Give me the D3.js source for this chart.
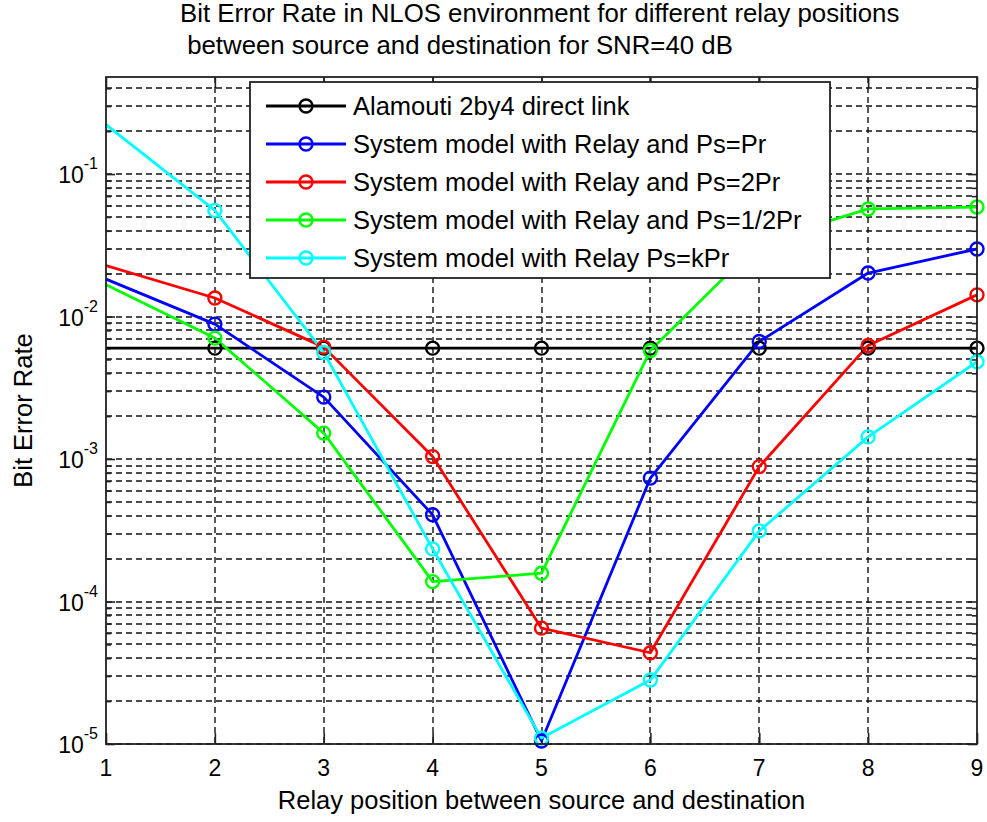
<!DOCTYPE html>
<html>
<head>
<meta charset="utf-8">
<script src="https://cdn.jsdelivr.net/npm/d3@7"></script>
<style>
  body { margin: 0; background: #fff; }
  svg { display: block; }
  text { font-family: "Liberation Sans", Arial, Helvetica, sans-serif; fill: #000; }
</style>
</head>
<body>
<svg id="chart" width="987" height="822"></svg>
<script>
// Relay position (1 = at source, 9 = at destination)
const positions = [1, 2, 3, 4, 5, 6, 7, 8, 9];

// Bit error rate per relay position
const berDirect  = [0.006, 0.006, 0.006, 0.006, 0.006, 0.006, 0.006, 0.006, 0.006];
const berEqual   = [0.0183, 0.00885, 0.00272, 4.06e-4, 1.05e-5, 7.35e-4, 0.00668, 0.0202, 0.0298];
const berDouble  = [0.0228, 0.0135, 0.0061, 1.04e-3, 6.5e-5, 4.37e-5, 8.85e-4, 0.00627, 0.0142];
const berHalf    = [0.0167, 0.00706, 1.52e-3, 1.38e-4, 1.58e-4, 5.78e-3, 0.0330, 0.0569, 0.0587];
const berK       = [0.222, 0.0556, 0.0056, 2.34e-4, 1.1e-5, 2.81e-5, 3.13e-4, 1.43e-3, 4.82e-3];

const seriesLabels = [
  "Alamouti 2by4 direct link",
  "System model with Relay and Ps=Pr",
  "System model with Relay and Ps=2Pr",
  "System model with Relay and Ps=1/2Pr",
  "System model with Relay Ps=kPr"
];
const seriesColors = ["#000000", "#0000ff", "#ff0000", "#00ff00", "#00ffff"];
const seriesValues = [berDirect, berEqual, berDouble, berHalf, berK];

const xTicks = [1, 2, 3, 4, 5, 6, 7, 8, 9];
const yDecades = [1e-5, 1e-4, 1e-3, 1e-2, 1e-1];
const yDecadeExp = ["-5", "-4", "-3", "-2", "-1"];
const yDomain = [1e-5, 0.48];

const titleLines = [
  "Bit Error Rate in NLOS environment for different relay positions",
  " between source and destination for SNR=40 dB"
];
const xLabel = "Relay position between source and destination";
const yLabel = "Bit Error Rate";

// ---- layout ----
const plot = { left: 106, right: 977, top: 77, bottom: 744 };
const svg = d3.select("#chart");

const x = d3.scaleLinear().domain([1, 9]).range([plot.left, plot.right]);
const y = d3.scaleLog().domain(yDomain).range([plot.bottom, plot.top]);

// minor log ticks (2..9 x 10^k) inside the domain
const yMinor = [];
for (let e = -5; e <= -1; e++) {
  for (let m = 2; m <= 9; m++) {
    const v = m * Math.pow(10, e);
    if (v > yDomain[0] && v < yDomain[1]) yMinor.push(v);
  }
}

svg.append("defs").append("clipPath").attr("id", "plotClip")
  .append("rect")
  .attr("x", plot.left).attr("y", plot.top)
  .attr("width", plot.right - plot.left).attr("height", plot.bottom - plot.top);

// ---- grid ----
const grid = svg.append("g").attr("stroke", "#111").attr("stroke-width", 1.4)
  .attr("stroke-dasharray", "6,4").attr("fill", "none");

grid.selectAll("line.yg")
  .data(yDecades.concat(yMinor))
  .join("line")
  .attr("x1", plot.left).attr("x2", plot.right)
  .attr("y1", d => Math.round(y(d))).attr("y2", d => Math.round(y(d)));

grid.selectAll("line.xg")
  .data(xTicks.slice(1, -1))
  .join("line")
  .attr("x1", d => Math.round(x(d))).attr("x2", d => Math.round(x(d)))
  .attr("y1", plot.top).attr("y2", plot.bottom);

// ---- axes (inward ticks on all four sides) ----
const axisColor = "#222";
const axL = svg.append("g").attr("transform", `translate(${plot.left},0)`)
  .call(d3.axisRight(y).tickValues(yDecades).tickSize(9).tickFormat(""));
const axLm = svg.append("g").attr("transform", `translate(${plot.left},0)`)
  .call(d3.axisRight(y).tickValues(yMinor).tickSize(5).tickFormat(""));
const axR = svg.append("g").attr("transform", `translate(${plot.right},0)`)
  .call(d3.axisLeft(y).tickValues(yDecades).tickSize(9).tickFormat(""));
const axRm = svg.append("g").attr("transform", `translate(${plot.right},0)`)
  .call(d3.axisLeft(y).tickValues(yMinor).tickSize(5).tickFormat(""));
const axB = svg.append("g").attr("transform", `translate(0,${plot.bottom})`)
  .call(d3.axisTop(x).tickValues(xTicks).tickSize(11).tickFormat(""));
const axT = svg.append("g").attr("transform", `translate(0,${plot.top})`)
  .call(d3.axisBottom(x).tickValues(xTicks).tickSize(11).tickFormat(""));
[axL, axLm, axR, axRm, axB, axT].forEach(g => {
  g.select(".domain").remove();
  g.selectAll(".tick line").attr("stroke", axisColor).attr("stroke-width", 1.6);
});

// x tick labels
svg.append("g").selectAll("text")
  .data(xTicks)
  .join("text")
  .attr("x", d => x(d)).attr("y", plot.bottom + 32)
  .attr("text-anchor", "middle")
  .attr("font-size", 23)
  .text(d => d);

// y tick labels: 10 with superscript exponent
const yl = svg.append("g").selectAll("text")
  .data(yDecades)
  .join("text")
  .attr("x", plot.left - 8).attr("y", d => y(d) + 9)
  .attr("text-anchor", "end")
  .attr("font-size", 23);
yl.append("tspan").text("10");
yl.append("tspan").attr("font-size", 16).attr("dy", -14).text((d, i) => yDecadeExp[i]);

// ---- data lines ----
const line = d3.line()
  .x((d, i) => x(positions[i]))
  .y(d => y(d));

const series = seriesValues.map((vals, i) => ({ vals, color: seriesColors[i], label: seriesLabels[i] }));

const lines = svg.append("g").attr("clip-path", "url(#plotClip)");
const marks = svg.append("g");
series.forEach(s => {
  lines.append("path")
    .attr("d", line(s.vals))
    .attr("fill", "none")
    .attr("stroke", s.color)
    .attr("stroke-width", 2.8)
    .attr("stroke-linejoin", "round");
  // circles at relay positions 2..9 (position 1 lies on the axis edge)
  marks.append("g").selectAll("circle")
    .data(s.vals.map((v, i) => ({ v, p: positions[i] })).filter(d => d.p > 1))
    .join("circle")
    .attr("cx", d => x(d.p)).attr("cy", d => y(d.v))
    .attr("r", 6.5)
    .attr("fill", "none")
    .attr("stroke", s.color)
    .attr("stroke-width", 2.4);
});

// ---- axes box ----
svg.append("rect")
  .attr("x", plot.left).attr("y", plot.top)
  .attr("width", plot.right - plot.left).attr("height", plot.bottom - plot.top)
  .attr("fill", "none").attr("stroke", axisColor).attr("stroke-width", 1.8);

// ---- legend ----
const leg = { x: 250, y: 82, w: 580, h: 196, row0: 106, rowStep: 38 };
svg.append("rect")
  .attr("x", leg.x).attr("y", leg.y).attr("width", leg.w).attr("height", leg.h)
  .attr("fill", "#fff").attr("stroke", "#222").attr("stroke-width", 1.8);
const legRows = svg.append("g").selectAll("g")
  .data(series)
  .join("g")
  .attr("transform", (d, i) => `translate(0,${leg.row0 + i * leg.rowStep})`);
legRows.append("line")
  .attr("x1", 266).attr("x2", 346).attr("y1", 0).attr("y2", 0)
  .attr("stroke", d => d.color).attr("stroke-width", 2.8);
legRows.append("circle")
  .attr("cx", 306).attr("cy", 0).attr("r", 6.5)
  .attr("fill", "none").attr("stroke", d => d.color).attr("stroke-width", 2.4);
legRows.append("text")
  .attr("x", 353).attr("y", 9)
  .attr("font-size", 25.5)
  .text(d => d.label);

// ---- titles ----
svg.append("g").selectAll("text")
  .data(titleLines)
  .join("text")
  .attr("x", 180).attr("y", (d, i) => 22 + i * 32)
  .attr("font-size", 25.8)
  .attr("xml:space", "preserve")
  .style("white-space", "pre")
  .text(d => d);

svg.append("text")
  .attr("x", (plot.left + plot.right) / 2).attr("y", 809)
  .attr("text-anchor", "middle")
  .attr("font-size", 25.5)
  .text(xLabel);

svg.append("text")
  .attr("transform", `translate(32,${(plot.top + plot.bottom) / 2}) rotate(-90)`)
  .attr("text-anchor", "middle")
  .attr("font-size", 25.5)
  .text(yLabel);
</script>
</body>
</html>
